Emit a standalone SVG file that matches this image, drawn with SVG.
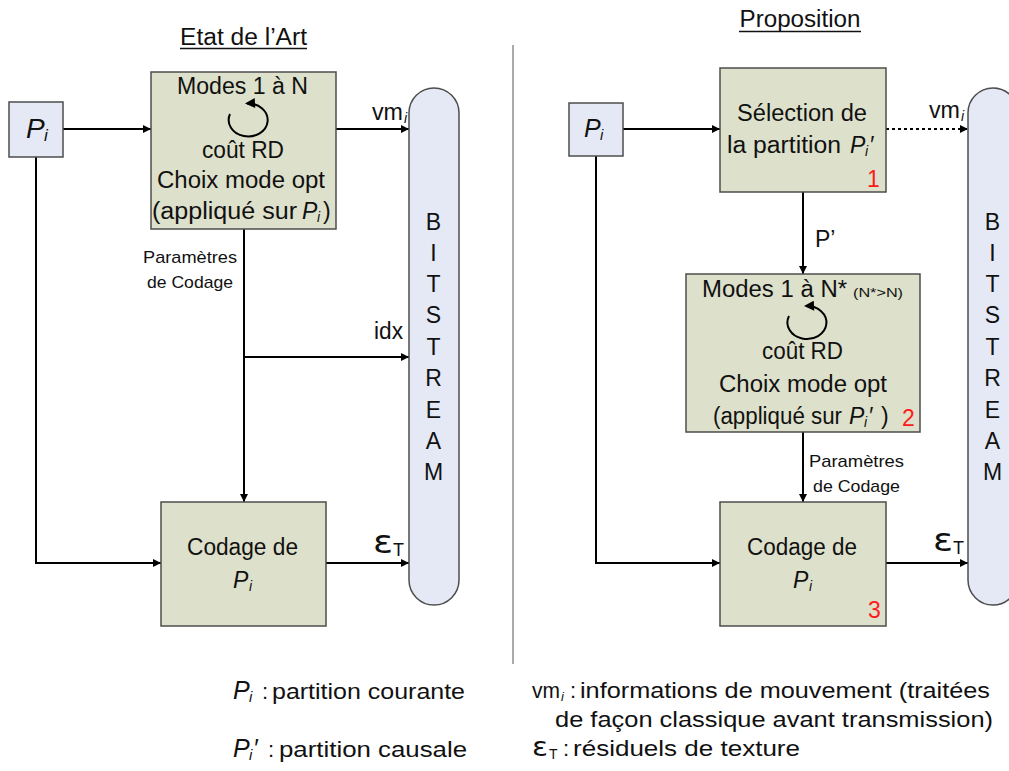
<svg xmlns="http://www.w3.org/2000/svg" width="1009" height="771" viewBox="0 0 1009 771">
<defs>
<style>
text{font-family:"Liberation Sans",Arial,sans-serif;fill:#111;}
.t{font-size:23px;}
.c{text-anchor:middle;}
.it{font-style:italic;}
.sub{font-size:14px;font-style:italic;}
.sm{font-size:17px;}
.red{fill:#ff1a1a;font-size:23px;}
.eps{font-family:"DejaVu Sans",sans-serif;}
.box{fill:#dde0ca;stroke:#4d4d4d;stroke-width:1.5;}
.pbox{fill:#e4e9f5;stroke:#4d4d4d;stroke-width:1.5;}
.bs{fill:#e4e9f5;stroke:#4d4d4d;stroke-width:1.5;}
.ln{fill:none;stroke:#000;stroke-width:2;}
.loop{fill:none;stroke:#000;stroke-width:2;}
.leg{font-size:22px;}
</style>
<marker id="ah" viewBox="0 0 10 10" refX="10" refY="5" markerWidth="9" markerHeight="8" markerUnits="userSpaceOnUse" orient="auto">
<path d="M0,0 L10,5 L0,10 z" fill="#000"/>
</marker>
<marker id="ahs" viewBox="0 0 10 10" refX="8" refY="5" markerWidth="11" markerHeight="10" markerUnits="userSpaceOnUse" orient="auto">
<path d="M0,0 L10,5 L0,10 z" fill="#000"/>
</marker>
</defs>

<!-- titles -->
<g id="title-left">
<text class="t c" x="243.5" y="45" textLength="127" lengthAdjust="spacingAndGlyphs">Etat de l’Art</text>
<line x1="180" y1="48.5" x2="307" y2="48.5" stroke="#111" stroke-width="1.5"/>
</g>
<g id="title-right">
<text class="t c" x="800" y="27" textLength="121" lengthAdjust="spacingAndGlyphs">Proposition</text>
<line x1="739" y1="31.5" x2="861" y2="31.5" stroke="#111" stroke-width="1.5"/>
</g>

<line id="divider" x1="513" y1="45" x2="513" y2="664" stroke="#555" stroke-width="1"/>

<!-- connectors -->
<g id="connectors">
<path class="ln" d="M63,129 H151" marker-end="url(#ah)"/>
<path class="ln" d="M336,129 H409" marker-end="url(#ah)"/>
<path class="ln" d="M244,229 V502" marker-end="url(#ah)"/>
<path class="ln" d="M244,357 H409" marker-end="url(#ah)"/>
<path class="ln" d="M36,157 V563 H161" marker-end="url(#ah)"/>
<path class="ln" d="M326,563 H409" marker-end="url(#ah)"/>
<path class="ln" d="M623,129 H720" marker-end="url(#ah)"/>
<path class="ln" d="M886,129 H968" stroke-dasharray="3,3" marker-end="url(#ah)"/>
<path class="ln" d="M803,192 V274" marker-end="url(#ah)"/>
<path class="ln" d="M803,432 V502" marker-end="url(#ah)"/>
<path class="ln" d="M596,156 V563 H720" marker-end="url(#ah)"/>
<path class="ln" d="M886,563 H968" marker-end="url(#ah)"/>
</g>

<!-- connector labels -->
<g id="labels">
<text class="t" x="372" y="120" textLength="31" lengthAdjust="spacingAndGlyphs">vm</text><text class="sub" x="404" y="123">i</text>
<text class="t" x="929" y="118" textLength="31" lengthAdjust="spacingAndGlyphs">vm</text><text class="sub" x="961" y="121">i</text>
<text class="t" x="374" y="339" textLength="29" lengthAdjust="spacingAndGlyphs">idx</text>
<text class="t" x="815" y="247">P’</text>
<text class="sm c" x="190" y="263" textLength="94" lengthAdjust="spacingAndGlyphs">Paramètres</text>
<text class="sm c" x="190" y="288" textLength="86" lengthAdjust="spacingAndGlyphs">de Codage</text>
<text class="sm c" x="856.5" y="467" textLength="95" lengthAdjust="spacingAndGlyphs">Paramètres</text>
<text class="sm c" x="856.5" y="492" textLength="87" lengthAdjust="spacingAndGlyphs">de Codage</text>
<text class="eps" x="373" y="553" style="font-size:32px" textLength="20" lengthAdjust="spacingAndGlyphs">ε</text><text x="393" y="556" style="font-size:18px">T</text>
<text class="eps" x="933" y="551" style="font-size:32px" textLength="20" lengthAdjust="spacingAndGlyphs">ε</text><text x="953" y="554" style="font-size:18px">T</text>
</g>

<!-- left Pi -->
<g id="pi-left">
<rect class="pbox" x="9" y="102" width="54" height="55"/>
<text class="it" x="26" y="138" style="font-size:28px">P</text><text class="sub" x="44" y="141" style="font-size:17px">i</text>
</g>

<!-- left modes box -->
<g id="modes-left">
<rect class="box" x="151" y="72" width="185" height="157"/>
<text class="t c" x="242.5" y="94" textLength="131" lengthAdjust="spacingAndGlyphs">Modes 1 à N</text>
<path class="loop" d="M230,114 A19.5,16.5 0 1 0 247,103.5" marker-end="url(#ahs)"/>
<text class="t c" x="243" y="158" textLength="82" lengthAdjust="spacingAndGlyphs">coût RD</text>
<text class="t c" x="241" y="188" textLength="168" lengthAdjust="spacingAndGlyphs">Choix mode opt</text>
<text class="t" x="152" y="219" textLength="145" lengthAdjust="spacingAndGlyphs">(appliqué sur</text>
<text class="t it" x="302" y="219">P</text><text class="sub" x="317" y="222">i</text>
<text class="t" x="323" y="219">)</text>
</g>

<!-- left codage box -->
<g id="codage-left">
<rect class="box" x="161" y="502" width="165" height="124"/>
<text class="t c" x="242.5" y="555" textLength="111" lengthAdjust="spacingAndGlyphs">Codage de</text>
<text class="t it" x="233" y="588">P</text><text class="sub" x="249" y="591">i</text>
</g>

<!-- left bitstream -->
<g id="bitstream-left">
<rect class="bs" x="409" y="88" width="50" height="517" rx="25" ry="25"/>
<text class="t c" x="433.5" y="230">B</text>
<text class="t c" x="433.5" y="261">I</text>
<text class="t c" x="433.5" y="292">T</text>
<text class="t c" x="433.5" y="323">S</text>
<text class="t c" x="433.5" y="355">T</text>
<text class="t c" x="433.5" y="386">R</text>
<text class="t c" x="433.5" y="418">E</text>
<text class="t c" x="433.5" y="449">A</text>
<text class="t c" x="433.5" y="480">M</text>
</g>

<!-- right Pi -->
<g id="pi-right">
<rect class="pbox" x="569" y="103" width="54" height="53"/>
<text class="it" x="584" y="137" style="font-size:25px">P</text><text class="sub" x="600" y="140" style="font-size:15px">i</text>
</g>

<!-- selection box -->
<g id="selection">
<rect class="box" x="720" y="68" width="166" height="124"/>
<text class="t c" x="802" y="121" textLength="130" lengthAdjust="spacingAndGlyphs">Sélection de</text>
<text class="t" x="727" y="153" textLength="114" lengthAdjust="spacingAndGlyphs">la partition</text>
<text class="t it" x="850" y="153">P</text><text class="sub" x="865" y="156">i</text><text class="t it" x="869" y="153">′</text>
<text class="red" x="867" y="187">1</text>
</g>

<!-- modes N* box -->
<g id="modes-right">
<rect class="box" x="686" y="274" width="234" height="158"/>
<text class="t" x="702" y="297" textLength="145" lengthAdjust="spacingAndGlyphs">Modes 1 à N*</text>
<text x="853" y="297" style="font-size:13px" textLength="50" lengthAdjust="spacingAndGlyphs">(N*&gt;N)</text>
<path class="loop" d="M789,316 A19.5,16.5 0 1 0 806,306" marker-end="url(#ahs)"/>
<text class="t c" x="802.5" y="359" textLength="81" lengthAdjust="spacingAndGlyphs">coût RD</text>
<text class="t c" x="803" y="392" textLength="168" lengthAdjust="spacingAndGlyphs">Choix mode opt</text>
<text class="t" x="713" y="424" textLength="129" lengthAdjust="spacingAndGlyphs">(appliqué sur</text>
<text class="t it" x="849" y="424">P</text><text class="sub" x="864" y="427">i</text><text class="t it" x="868" y="424">′</text>
<text class="t" x="881" y="424">)</text>
<text class="red" x="902" y="426">2</text>
</g>

<!-- right codage box -->
<g id="codage-right">
<rect class="box" x="720" y="502" width="166" height="124"/>
<text class="t c" x="802" y="555" textLength="110" lengthAdjust="spacingAndGlyphs">Codage de</text>
<text class="t it" x="793" y="588">P</text><text class="sub" x="809" y="591">i</text>
<text class="red" x="868" y="618">3</text>
</g>

<!-- right bitstream -->
<g id="bitstream-right">
<rect class="bs" x="968" y="88" width="50" height="517" rx="25" ry="25"/>
<text class="t c" x="992.5" y="230">B</text>
<text class="t c" x="992.5" y="261">I</text>
<text class="t c" x="992.5" y="292">T</text>
<text class="t c" x="992.5" y="323">S</text>
<text class="t c" x="992.5" y="355">T</text>
<text class="t c" x="992.5" y="386">R</text>
<text class="t c" x="992.5" y="418">E</text>
<text class="t c" x="992.5" y="449">A</text>
<text class="t c" x="992.5" y="480">M</text>
</g>

<!-- legend -->
<g id="legend">
<text class="it" x="233" y="699" style="font-size:25px">P</text><text class="sub" x="249" y="702" style="font-size:15px">i</text>
<text class="leg" x="262" y="699">:</text>
<text class="leg" x="272" y="699" textLength="193" lengthAdjust="spacingAndGlyphs">partition courante</text>
<text class="it" x="233" y="757" style="font-size:25px">P</text><text class="sub" x="249" y="760" style="font-size:15px">i</text><text class="it" x="253" y="757" style="font-size:25px">′</text>
<text class="leg" x="268" y="757">:</text>
<text class="leg" x="279" y="757" textLength="188" lengthAdjust="spacingAndGlyphs">partition causale</text>
<text class="leg" x="532" y="698" textLength="28" lengthAdjust="spacingAndGlyphs">vm</text><text class="sub" x="561" y="701" style="font-size:13px">i</text>
<text class="leg" x="570" y="698">:</text>
<text class="leg" x="580" y="698" textLength="410" lengthAdjust="spacingAndGlyphs">informations de mouvement (traitées</text>
<text class="leg" x="555" y="727" textLength="438" lengthAdjust="spacingAndGlyphs">de façon classique avant transmission)</text>
<text class="eps" x="532" y="756" style="font-size:27px" textLength="16" lengthAdjust="spacingAndGlyphs">ε</text><text x="549" y="759" style="font-size:14px">T</text>
<text class="leg" x="563" y="756">:</text>
<text class="leg" x="573" y="756" textLength="227" lengthAdjust="spacingAndGlyphs">résiduels de texture</text>
</g>
</svg>
